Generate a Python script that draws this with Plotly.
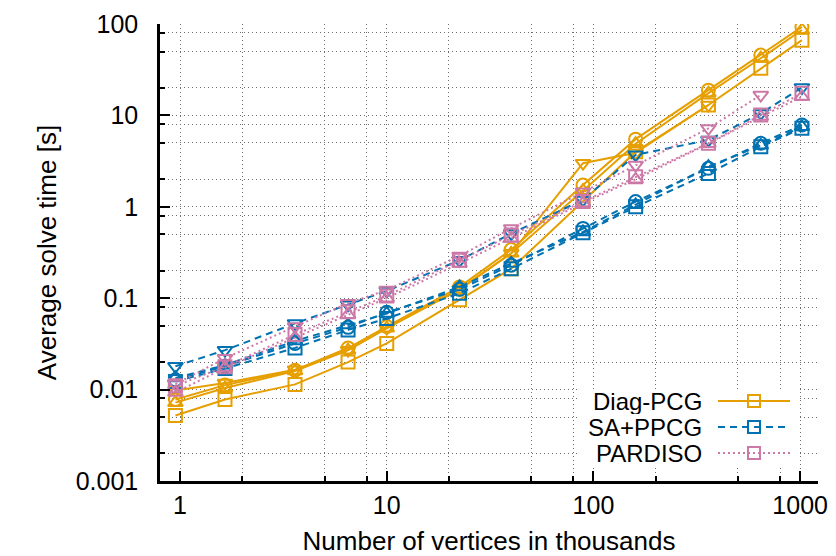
import math
import plotly.graph_objects as go

# Number of vertices (thousands)
x_k = [0.95, 1.65, 3.6, 6.5, 10, 22.5, 40, 89, 160, 360, 645, 1020]

# Diag-PCG
diag_square = [0.0052, 0.0078, 0.0114, 0.020, 0.032, 0.096, 0.21, 1.15, 4.0, 13.0, 32.8, 66.6]
diag_circle = [0.0078, 0.0112, 0.0163, 0.0285, 0.049, 0.133, 0.34, 1.73, 5.5, 18.9, 45.7, 93.0]
diag_triup = [0.0072, 0.0104, 0.0160, 0.027, 0.047, 0.125, 0.31, 1.50, 4.9, 17.5, 42.2, 86.0]
diag_tridown = [0.0098, 0.0118, 0.0165, 0.027, 0.047, 0.125, 0.31, 3.0, 3.9, 13.0]

# SA+PPCG
sa_square = [0.0123, 0.0170, 0.0286, 0.045, 0.060, 0.113, 0.21, 0.52, 1.00, 2.32, 4.54, 7.24]
sa_circle = [0.0128, 0.0180, 0.0320, 0.048, 0.070, 0.125, 0.23, 0.58, 1.14, 2.64, 4.95, 7.85]
sa_triup = [0.0134, 0.0185, 0.0340, 0.051, 0.068, 0.133, 0.24, 0.53, 1.05, 2.75, 4.70, 7.50]
sa_tridown = [0.0180, 0.0270, 0.0530, 0.085, 0.120, 0.260, 0.51, 1.19, 3.70, 5.37, 10.5, 20.2]

# PARDISO
par_square = [0.0110, 0.0178, 0.040, 0.071, 0.106, 0.26, 0.49, 1.14, 2.13, 4.95, 10.1, 17.5]
par_triup = [0.0093, 0.0173, 0.037, 0.066, 0.100, 0.24, 0.45, 1.10, 2.00, 4.90, 9.7, 16.0]
par_tridown = [0.0115, 0.0220, 0.049, 0.088, 0.123, 0.29, 0.58, 1.46, 2.86, 7.20, 16.7]

methods = ["Diag-PCG", "SA+PPCG", "PARDISO"]
colors = {"Diag-PCG": "#E69F00", "SA+PPCG": "#0072B2", "PARDISO": "#CC79A7"}
dashes = {"Diag-PCG": "solid", "SA+PPCG": "7px,5px", "PARDISO": "2px,3px"}

series = [
    ("Diag-PCG", "square-open", diag_square),
    ("Diag-PCG", "circle-open", diag_circle),
    ("Diag-PCG", "triangle-up-open", diag_triup),
    ("Diag-PCG", "triangle-down-open", diag_tridown),
    ("SA+PPCG", "square-open", sa_square),
    ("SA+PPCG", "circle-open", sa_circle),
    ("SA+PPCG", "triangle-up-open", sa_triup),
    ("SA+PPCG", "triangle-down-open", sa_tridown),
    ("PARDISO", "square-open", par_square),
    ("PARDISO", "triangle-up-open", par_triup),
    ("PARDISO", "triangle-down-open", par_tridown),
]

x_major = [1, 10, 100, 1000]
x_major_text = ["1", "10", "100", "1000"]
x_minor = [0.8, 2, 5, 8, 20, 50, 80, 200, 500, 800]
y_major = [0.001, 0.01, 0.1, 1, 10, 100]
y_major_text = ["0.001", "0.01", "0.1", "1", "10", "100"]
y_minor = [0.002, 0.005, 0.008, 0.02, 0.05, 0.08, 0.2, 0.5, 0.8, 2, 5, 8, 20, 50, 80]

FONT = "Liberation Sans, Arial, Helvetica, sans-serif"

fig = go.Figure()
for name, sym, vals in series:
    fig.add_trace(go.Scatter(
        x=x_k[:len(vals)], y=vals, mode="lines+markers", name=name,
        showlegend=False,
        line=dict(color=colors[name], width=2, dash=dashes[name]),
        marker=dict(symbol=sym, size=13, color=colors[name],
                    line=dict(width=2, color=colors[name])),
    ))

grid = dict(showgrid=True, gridcolor="#6a6a6a", griddash="1px,3px", gridwidth=1)
axis_common = dict(
    type="log", ticks="inside", ticklen=10, tickwidth=2, tickcolor="black",
    showline=True, linewidth=2.5, linecolor="black", mirror=False,
    zeroline=False, automargin=False,
    tickfont=dict(family=FONT, size=25, color="black"),
    **grid,
)

fig.update_layout(
    width=836, height=556,
    margin=dict(l=160, r=18, t=24, b=75),
    paper_bgcolor="white", plot_bgcolor="white",
    font=dict(family=FONT, color="black"),
    xaxis=dict(
        range=[math.log10(0.8), math.log10(1220)],
        tickmode="array", tickvals=x_major, ticktext=x_major_text,
        minor=dict(tickmode="array", tickvals=x_minor, ticks="inside", ticklen=5,
                   tickwidth=2, tickcolor="black", **grid),
        title=dict(text="Number of vertices in thousands",
                   font=dict(family=FONT, size=26), standoff=20),
        **axis_common,
    ),
    yaxis=dict(
        range=[-3, 2],
        tickmode="array", tickvals=y_major, ticktext=y_major_text,
        minor=dict(tickmode="array", tickvals=y_minor, ticks="inside", ticklen=5,
                   tickwidth=2, tickcolor="black", **grid),
        title=dict(text="Average solve time [s]",
                   font=dict(family=FONT, size=26), standoff=12),
        ticklabelstandoff=14,
        **axis_common,
    ),
)

# Key (gnuplot-style: text right-aligned, sample line + marker on the right)
def px_x(p):
    return (p - 160) / 658.0

def px_y(p):
    return (481 - p) / 457.0

shapes = [dict(type="rect", xref="paper", yref="paper",
               x0=px_x(577), x1=px_x(797), y0=px_y(467), y1=px_y(389),
               fillcolor="white", line=dict(width=0), layer="above")]
annotations = []
key_rows = [("Diag-PCG", 401), ("SA+PPCG", 427), ("PARDISO", 453)]
for name, ypx in key_rows:
    yp = px_y(ypx)
    annotations.append(dict(text=name, xref="paper", yref="paper", x=px_x(704), y=yp,
                            xanchor="right", yanchor="middle", showarrow=False,
                            height=26, valign="middle",
                            font=dict(family=FONT, size=24, color="black")))
    shapes.append(dict(type="line", xref="paper", yref="paper",
                       x0=px_x(718), x1=px_x(790), y0=yp, y1=yp,
                       line=dict(color=colors[name], width=2, dash=dashes[name]),
                       layer="above"))
    shapes.append(dict(type="rect", xref="paper", yref="paper",
                       xsizemode="pixel", ysizemode="pixel",
                       xanchor=px_x(754), yanchor=yp, x0=-6, x1=6, y0=-6, y1=6,
                       fillcolor="rgba(0,0,0,0)",
                       line=dict(color=colors[name], width=2), layer="above"))

fig.update_layout(shapes=shapes, annotations=annotations)

fig.write_html("out.html")
